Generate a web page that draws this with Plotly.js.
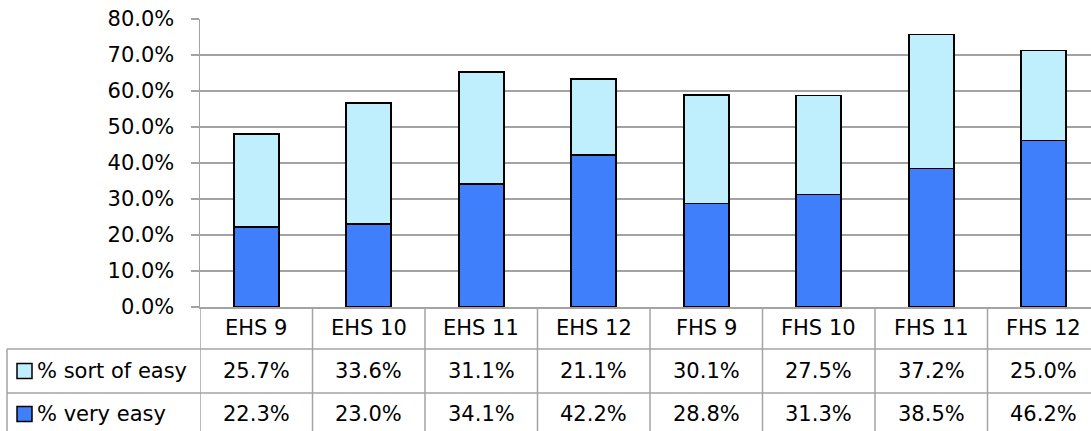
<!DOCTYPE html>
<html>
<head>
<meta charset="utf-8">
<script src="https://cdn.plot.ly/plotly-3.0.1.min.js"></script>
<style>
html, body { margin: 0; padding: 0; overflow: hidden; background: #fff; }
#chart { width: 1100px; height: 431px; }
</style>
</head>
<body>
<div id="chart"></div>
<script>
const categories = ["EHS 9", "EHS 10", "EHS 11", "EHS 12", "FHS 9", "FHS 10", "FHS 11", "FHS 12"];
const sortOfEasy = [25.7, 33.6, 31.1, 21.1, 30.1, 27.5, 37.2, 25.0];
const veryEasy = [22.3, 23.0, 34.1, 42.2, 28.8, 31.3, 38.5, 46.2];
const seriesNames = ["% sort of easy", "% very easy"];
const yTicks = [0, 10, 20, 30, 40, 50, 60, 70, 80];

const FONT = "'DejaVu Sans', sans-serif";
const FS = 21;
const W = 1100, H = 431, L = 200, T = 19, B = 124;
const PW = W - L, PH = H - T - B;
const px = x => (x - L) / PW;             // pixel x -> paper
const py = y => (H - B - y) / PH;         // pixel y -> paper
const GRID = "#a3a3a3";
const idx = categories.map((_, i) => i);

const traces = [
  { type: "bar", x: idx, y: veryEasy, name: seriesNames[1], width: 0.4,
    marker: { color: "#3f7ffb", line: { color: "#000", width: 1.6 } }, hoverinfo: "y" },
  { type: "bar", x: idx, y: sortOfEasy, name: seriesNames[0], width: 0.4,
    marker: { color: "#bfeefc", line: { color: "#000", width: 1.6 } }, hoverinfo: "y" }
];

const shapes = [];
const annotations = [];
// vertical lines in the table
for (let i = 0; i <= categories.length; i++) {
  shapes.push({ type: "line", xref: "x", yref: "paper", x0: i - 0.5, x1: i - 0.5,
    y0: 0, y1: py(H), line: { color: GRID, width: 1.5 }, layer: "above" });
}
// left border of legend column
shapes.push({ type: "line", xref: "paper", yref: "paper", x0: px(7), x1: px(7),
  y0: py(349), y1: py(H), line: { color: GRID, width: 1.5 } });
// horizontal lines
[349, 393].forEach(y => shapes.push({ type: "line", xref: "paper", yref: "paper",
  x0: px(7), x1: 1, y0: py(y), y1: py(y), line: { color: GRID, width: 1.5 } }));
// legend squares
const legendColors = ["#bfeefc", "#3f7ffb"];
const rowCenters = [371, 414];
rowCenters.forEach((c, r) => {
  shapes.push({ type: "rect", xref: "paper", yref: "paper",
    x0: px(17), x1: px(32), y0: py(c - 7.5), y1: py(c + 7.5),
    fillcolor: legendColors[r], line: { color: "#000", width: 1.5 } });
  annotations.push({ xref: "paper", yref: "paper", x: px(35), y: py(c),
    xanchor: "left", yanchor: "middle", showarrow: false, text: seriesNames[r],
    font: { family: FONT, size: FS, color: "#000" } });
});
const rows = [sortOfEasy, veryEasy];
categories.forEach((cat, i) => {
  annotations.push({ xref: "x", yref: "paper", x: i, y: py(328), xanchor: "center",
    yanchor: "middle", showarrow: false, text: cat,
    font: { family: FONT, size: FS, color: "#000" } });
  rows.forEach((vals, r) => {
    annotations.push({ xref: "x", yref: "paper", x: i, y: py(rowCenters[r]), xanchor: "center",
      yanchor: "middle", showarrow: false, text: vals[i].toFixed(1) + "%",
      font: { family: FONT, size: FS, color: "#000" } });
  });
});

const layout = {
  width: W, height: H,
  margin: { l: L, r: 0, t: T, b: B, pad: 0 },
  paper_bgcolor: "#fff", plot_bgcolor: "#fff",
  barmode: "stack", showlegend: false,
  xaxis: { range: [-0.5, categories.length - 0.5], showticklabels: false, ticks: "",
    showgrid: false, zeroline: false, showline: true, linecolor: GRID, linewidth: 1.5,
    fixedrange: true },
  yaxis: { range: [0, 80], tickvals: yTicks, ticktext: yTicks.map(v => v.toFixed(1) + "%"),
    showgrid: true, gridcolor: GRID, gridwidth: 1.5, zeroline: false,
    showline: true, linecolor: GRID, linewidth: 1.5,
    ticks: "outside", ticklen: 8, tickcolor: GRID, tickwidth: 1.5,
    ticklabelstandoff: 12,
    tickfont: { family: FONT, size: FS, color: "#000" }, fixedrange: true },
  shapes: shapes,
  annotations: annotations
};

Plotly.newPlot("chart", traces, layout, { displayModeBar: false, staticPlot: true });
</script>
</body>
</html>
